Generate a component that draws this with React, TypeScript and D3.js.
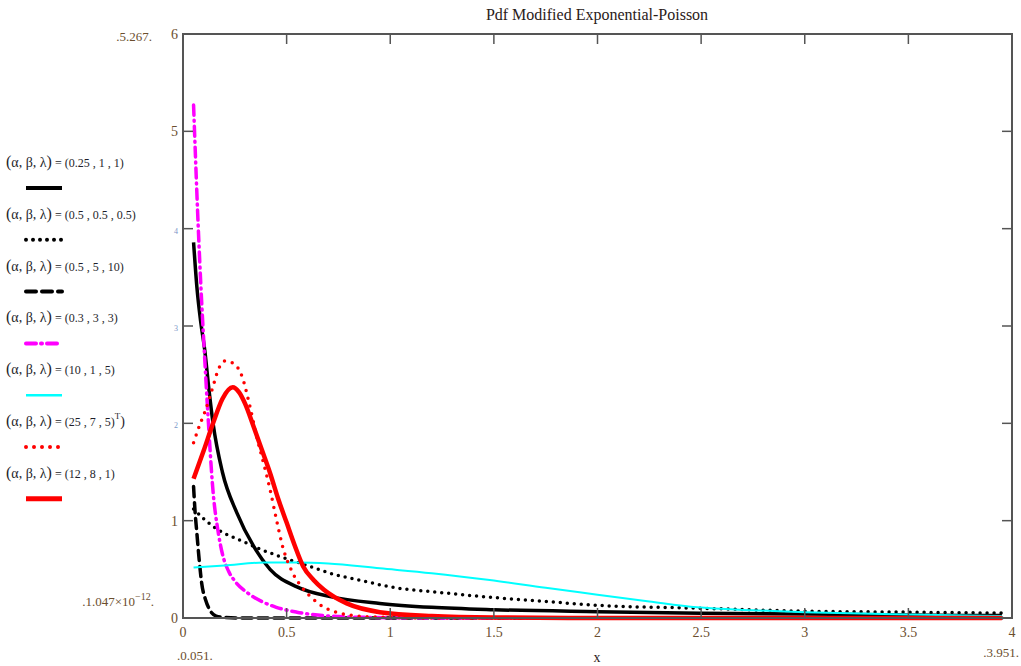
import React, { useRef, useEffect } from "react";
import * as d3 from "d3";

// values, [x, pdf]
const pdfA = [[0.051,3.86],[0.067,3.4],[0.085,3.05],[0.105,2.75],[0.125,2.35],[0.145,2.0],[0.19,1.5],[0.26,1.08],[0.34,0.74],[0.42,0.5],[0.55,0.32],[0.71,0.22],[0.95,0.15],[1.2,0.11],[1.5,0.085],[2.0,0.065],[2.5,0.05],[3.0,0.04],[3.5,0.03],[3.951,0.025]];
const pdfB = [[0.051,1.12],[0.1,1.02],[0.145,0.94],[0.2,0.87],[0.275,0.8],[0.37,0.71],[0.47,0.63],[0.6,0.54],[0.71,0.46],[0.85,0.39],[1.0,0.32],[1.25,0.26],[1.5,0.21],[1.75,0.17],[2.0,0.13],[2.5,0.1],[3.0,0.07],[3.5,0.06],[3.951,0.05]];
const pdfC = [[0.051,1.35],[0.058,1.1],[0.067,0.87],[0.078,0.6],[0.09,0.36],[0.11,0.18],[0.13,0.08],[0.16,0.02],[0.2,0.005],[0.3,0],[1,0],[2,0],[3,0],[3.951,0]];
const pdfD = [[0.051,5.27],[0.06,4.75],[0.07,4.2],[0.08,3.7],[0.09,3.25],[0.1,2.85],[0.12,2.1],[0.145,1.3],[0.17,0.88],[0.19,0.66],[0.22,0.48],[0.25,0.38],[0.31,0.26],[0.38,0.17],[0.45,0.11],[0.55,0.06],[0.65,0.03],[0.75,0.015],[0.9,0.006],[1.1,0.002],[1.5,0],[2.5,0],[3.951,0]];
const pdfE = [[0.051,0.52],[0.2,0.54],[0.39,0.57],[0.55,0.57],[0.7,0.56],[0.95,0.51],[1.2,0.46],[1.48,0.39],[1.75,0.31],[2.0,0.24],[2.25,0.17],[2.48,0.11],[2.75,0.08],[3.0,0.06],[3.5,0.035],[3.951,0.02]];
const pdfF = [[0.051,1.8],[0.08,1.98],[0.106,2.12],[0.145,2.38],[0.17,2.55],[0.203,2.64],[0.24,2.62],[0.285,2.48],[0.32,2.2],[0.357,1.85],[0.39,1.58],[0.42,1.32],[0.45,1.02],[0.48,0.74],[0.53,0.46],[0.58,0.3],[0.63,0.19],[0.68,0.11],[0.74,0.06],[0.82,0.025],[0.95,0.008],[1.2,0],[3.951,0]];
const pdfG = [[0.051,1.43],[0.1,1.72],[0.145,2.0],[0.19,2.25],[0.24,2.37],[0.27,2.32],[0.3,2.2],[0.34,1.97],[0.38,1.73],[0.42,1.49],[0.46,1.22],[0.5,0.98],[0.54,0.74],[0.58,0.53],[0.63,0.39],[0.68,0.29],[0.79,0.15],[0.95,0.06],[1.2,0.02],[1.5,0.005],[2,0],[3,0],[3.951,0]];

const params = ["(0.25 , 1 , 1)", "(0.5 , 0.5 , 0.5)", "(0.5 , 5 , 10)", "(0.3 , 3 , 3)", "(10 , 1 , 5)", "(25 , 7 , 5)", "(12 , 8 , 1)"];
const xTicks = [0, 0.5, 1, 1.5, 2, 2.5, 3, 3.5, 4];
const yTicks = [0, 1, 2, 3, 4, 5, 6];

const styles = [
  { data: pdfA, color: "#000", width: 3.5, dash: null },
  { data: pdfB, color: "#000", width: 3.5, dash: "0 7" },
  { data: pdfC, color: "#000", width: 3.5, dash: "10 6" },
  { data: pdfD, color: "#ff00ff", width: 3.5, dash: "10 5 1 5" },
  { data: pdfE, color: "#00ffff", width: 2, dash: null },
  { data: pdfF, color: "#ff0000", width: 3.5, dash: "0 8" },
  { data: pdfG, color: "#ff0000", width: 4.5, dash: null },
];

function App() {
  const svgRef = useRef();
  const width = 1021;
  const height = 666;
  const left = 183, right = 1012, top = 34, bottom = 618;
  const numColor = "#6b4e2e";

  useEffect(() => {
    const svg = d3.select(svgRef.current);
    svg.selectAll("*").remove();
    svg.attr("width", width).attr("height", height)
      .attr("font-family", "'Liberation Serif', 'DejaVu Serif', serif");

    const x = d3.scaleLinear([0, 4], [left, right]);
    const y = d3.scaleLinear([0, 6], [bottom, top]);

    // title
    svg.append("text")
      .attr("x", 597).attr("y", 20)
      .attr("text-anchor", "middle")
      .attr("font-size", 16)
      .attr("fill", "#2a2018")
      .text("Pdf Modified Exponential-Poisson");

    // curves
    const line = d3.line()
      .x(d => x(d[0]))
      .y(d => y(d[1]))
      .curve(d3.curveMonotoneX);

    const g = svg.append("g");
    styles.forEach(s => {
      g.append("path")
        .attr("d", line(s.data))
        .attr("fill", "none")
        .attr("stroke", s.color)
        .attr("stroke-width", s.width)
        .attr("stroke-linecap", s.dash ? "round" : "butt")
        .attr("stroke-linejoin", "round")
        .attr("stroke-dasharray", s.dash);
    });

    // frame
    svg.append("rect")
      .attr("x", left).attr("y", top)
      .attr("width", right - left).attr("height", bottom - top)
      .attr("fill", "none").attr("stroke", "#555").attr("stroke-width", 2);

    // ticks, inside on all four sides
    const tk = svg.append("g").attr("stroke", "#555").attr("stroke-width", 1.5);
    xTicks.slice(1, -1).forEach(t => {
      tk.append("line").attr("x1", x(t)).attr("x2", x(t)).attr("y1", bottom).attr("y2", bottom - 10);
      tk.append("line").attr("x1", x(t)).attr("x2", x(t)).attr("y1", top).attr("y2", top + 10);
    });
    yTicks.slice(1, -1).forEach(t => {
      tk.append("line").attr("x1", left).attr("x2", left + 10).attr("y1", y(t)).attr("y2", y(t));
      tk.append("line").attr("x1", right).attr("x2", right - 10).attr("y1", y(t)).attr("y2", y(t));
    });

    // tick labels
    svg.append("g").selectAll("text").data(xTicks).join("text")
      .attr("x", d => x(d)).attr("y", bottom + 19)
      .attr("text-anchor", "middle").attr("font-size", 14)
      .attr("fill", numColor)
      .text(d => d);
    svg.append("g").selectAll("text").data(yTicks).join("text")
      .attr("x", left - 5).attr("y", d => y(d) + 5)
      .attr("text-anchor", "end")
      .attr("font-size", d => (d >= 2 && d <= 4 ? 8 : 14))
      .attr("fill", d => (d >= 2 && d <= 4 ? "#7a96c8" : numColor))
      .text(d => d);

    // axis range annotations (Mathcad style)
    const note = (tx, ty, anchor) => svg.append("text")
      .attr("x", tx).attr("y", ty)
      .attr("text-anchor", anchor)
      .attr("font-size", 13).attr("fill", numColor);
    note(152, 41, "end").text(".5.267.");
    const e = note(154, 606, "end");
    e.append("tspan").text(".1.047×10");
    e.append("tspan").attr("dy", -6).attr("font-size", 10).text("−12");
    e.append("tspan").attr("dy", 6).text(".");
    note(177, 660, "start").text(".0.051.");
    note(1019, 657, "end").text(".3.951.");
    svg.append("text")
      .attr("x", 597).attr("y", 662)
      .attr("text-anchor", "middle").attr("font-size", 14)
      .attr("fill", "#2a2018").text("x");

    // legend
    const lg = svg.append("g");
    params.forEach((p, i) => {
      const ty = 167 + i * 51.8;
      const t = lg.append("text")
        .attr("x", 6).attr("y", ty)
        .attr("font-size", 14).attr("fill", "#1e1e2a");
      t.append("tspan").attr("font-size", 16).text("(");
      t.append("tspan").text("α, β, λ");
      t.append("tspan").attr("font-size", 16).text(")");
      t.append("tspan").attr("font-size", 12).text(" = " + p);
      if (i === 5) {
        t.append("tspan").attr("dy", -7).attr("font-size", 9).text("T");
        t.append("tspan").attr("dy", 7).text(")");
      }
      const s = styles[i];
      lg.append("line")
        .attr("x1", 26).attr("x2", 62)
        .attr("y1", ty + 21).attr("y2", ty + 21)
        .attr("stroke", s.color)
        .attr("stroke-width", s.width + 0.5)
        .attr("stroke-linecap", s.dash ? "round" : "butt")
        .attr("stroke-dasharray", s.dash);
    });
  }, []);

  return (
    <div style={{ position: "absolute", left: 0, top: 0 }}>
      <svg ref={svgRef} style={{ display: "block", background: "#fff" }}></svg>
    </div>
  );
}

export default App;
